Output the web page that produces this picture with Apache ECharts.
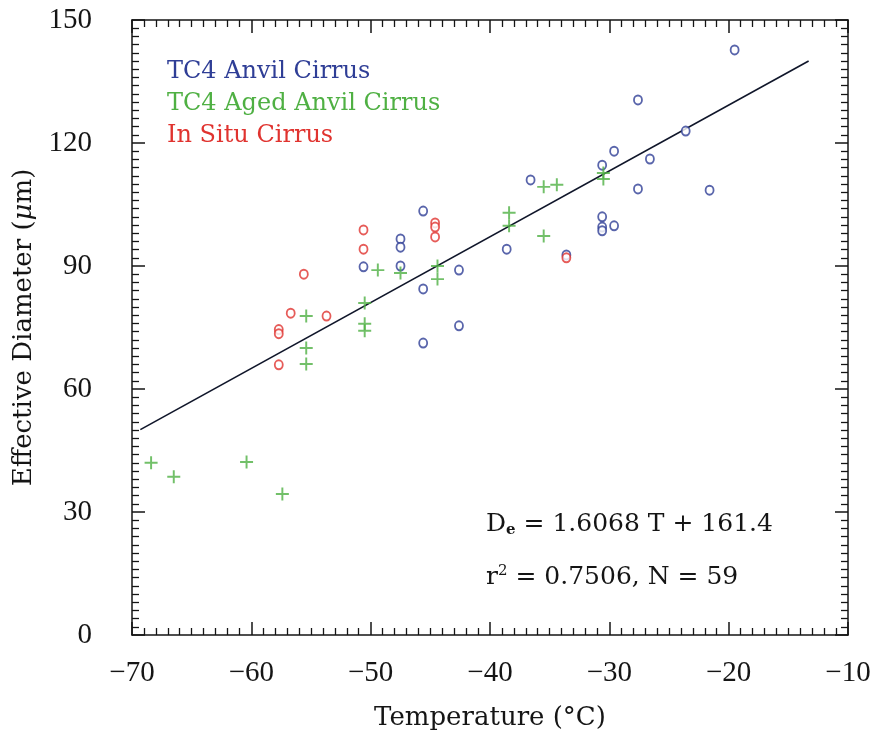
<!DOCTYPE html>
<html>
<head>
<meta charset="utf-8">
<script src="https://cdn.jsdelivr.net/npm/echarts@6/dist/echarts.min.js"></script>
<style>
  html, body { margin: 0; padding: 0; background: #fff; }
  #chart { width: 881px; height: 731px; }
</style>
</head>
<body>
<div id="chart"></div>
<script>
// values: [temperature C, effective diameter um]
var anvil = [
  [-19.5, 142.7], [-27.6, 130.5], [-23.6, 122.9], [-29.6, 118.0], [-30.6, 114.6],
  [-26.6, 116.1], [-36.6, 111.0], [-27.6, 108.8], [-21.6, 108.5], [-45.6, 103.4],
  [-30.6, 102.0], [-30.6, 99.5], [-30.6, 98.6], [-29.6, 99.8], [-47.5, 96.6],
  [-47.5, 94.6], [-38.6, 94.1], [-33.6, 92.7], [-50.6, 89.8], [-47.5, 90.0],
  [-42.6, 89.0], [-45.6, 84.4], [-42.6, 75.4], [-45.6, 71.2]
];
var agedAnvil = [
  [-55.4, 77.8], [-55.4, 70.0], [-55.4, 66.1], [-68.4, 42.0], [-66.5, 38.6],
  [-60.4, 42.2], [-57.4, 34.4], [-49.4, 89.0], [-47.5, 88.3], [-50.5, 81.0],
  [-50.5, 75.9], [-50.5, 74.2], [-44.4, 90.0], [-44.4, 86.8], [-38.4, 103.0],
  [-38.4, 99.8], [-35.5, 97.3], [-35.5, 109.3], [-34.4, 109.8], [-30.5, 112.7],
  [-30.5, 111.2]
];
var inSitu = [
  [-50.6, 98.8], [-50.6, 94.1], [-44.6, 100.5], [-44.6, 99.5], [-44.6, 97.1],
  [-53.7, 77.8], [-33.6, 92.0], [-55.6, 88.0], [-56.7, 78.5], [-57.7, 74.5],
  [-57.7, 73.5], [-57.7, 65.9]
];
// fitted line end points
var fitLine = [[-69.3, 50.1], [-13.3, 140.0]];

var xTicks = { min: -70, max: -10, interval: 10 };
var yTicks = { min: 0, max: 150, interval: 30 };

var blue = '#2f3e96';
var green = '#4fb043';
var red = '#e0332f';
var ink = '#151515';
var serif = 'DejaVu Serif';
var numFont = 'Liberation Serif';

var gridBox = { left: 132, right: 33, top: 20, bottom: 96 };
var plotW = 881 - gridBox.left - gridBox.right;
var plotH = 731 - gridBox.top - gridBox.bottom;

var plus = 'path://M4.25,0h1.5v4.25h4.25v1.5h-4.25v4.25h-1.5v-4.25h-4.25v-1.5h4.25z';

// frame axis: line + optional labels, no ticks
function frameAxis(pos, t, showLabel) {
    return {
        type: 'value',
        position: pos,
        min: t.min,
        max: t.max,
        interval: t.interval,
        splitLine: { show: false },
        axisLine: { show: true, onZero: false, lineStyle: { color: ink, width: 1.5 } },
        axisTick: { show: false },
        axisLabel: {
            show: showLabel,
            fontFamily: numFont,
            fontSize: 29,
            color: ink,
            formatter: function (v) { return String(v).replace('-', '\u2212'); }
        }
    };
}

// tick-only axis pushed across the plot so its outward ticks point inward
function tickAxis(pos, t, offset) {
    return {
        type: 'value',
        position: pos,
        offset: offset,
        min: t.min,
        max: t.max,
        interval: t.interval,
        splitLine: { show: false },
        axisLine: { show: false, onZero: false },
        axisLabel: { show: false },
        axisTick: { show: true, length: 13, lineStyle: { color: ink, width: 1.5 } },
        minorTick: { show: true, splitNumber: t === xTicks ? 10 : 15, length: 7, lineStyle: { color: ink, width: 1.3 } }
    };
}

var chart = echarts.init(document.getElementById('chart'));

var xBottom = frameAxis('bottom', xTicks, true);
xBottom.axisLabel.margin = 24;
xBottom.name = 'Temperature (\u00b0C)';
xBottom.nameLocation = 'middle';
xBottom.nameGap = 70;
xBottom.nameTextStyle = { fontFamily: serif, fontSize: 26, color: ink };

var yLeft = frameAxis('left', yTicks, true);
yLeft.axisLabel.margin = 40;
yLeft.name = 'Effective Diameter ({i|\u03bc}m)';
yLeft.nameLocation = 'middle';
yLeft.nameGap = 87;
yLeft.nameTextStyle = {
    fontFamily: serif, fontSize: 26, color: ink,
    rich: { i: { fontFamily: serif, fontStyle: 'italic', fontSize: 26, color: ink } }
};

var option = {
    backgroundColor: '#fff',
    animation: false,
    grid: {
        left: gridBox.left, right: gridBox.right, top: gridBox.top, bottom: gridBox.bottom,
        containLabel: false, outerBoundsMode: 'none'
    },
    xAxis: [
        xBottom,
        frameAxis('top', xTicks, false),
        tickAxis('top', xTicks, -plotH),
        tickAxis('bottom', xTicks, -plotH)
    ],
    yAxis: [
        yLeft,
        frameAxis('right', yTicks, false),
        tickAxis('right', yTicks, -plotW),
        tickAxis('left', yTicks, -plotW)
    ],
    legend: {
        orient: 'vertical',
        left: 162,
        top: 60,
        padding: 0,
        icon: 'none',
        itemWidth: 0,
        itemHeight: 24,
        itemGap: 8,
        selectedMode: false,
        textStyle: { fontFamily: serif, fontSize: 24, lineHeight: 24 },
        data: [
            { name: 'TC4 Anvil Cirrus', textStyle: { color: blue } },
            { name: 'TC4 Aged Anvil Cirrus', textStyle: { color: green } },
            { name: 'In Situ Cirrus', textStyle: { color: red } }
        ]
    },
    graphic: [{
        type: 'text',
        left: 486,
        top: 510,
        style: {
            text: 'D{s|e} = 1.6068 T + 161.4\n\nr{p|2} = 0.7506, N = 59',
            fontFamily: serif,
            fontSize: 25,
            lineHeight: 26,
            fill: ink,
            rich: {
                s: { fontFamily: serif, fontSize: 15, fontWeight: 'bold', verticalAlign: 'bottom', lineHeight: 28, fill: ink },
                p: { fontFamily: serif, fontSize: 15, verticalAlign: 'top', lineHeight: 24, fill: ink }
            }
        }
    }],
    series: [
        {
            name: 'fit',
            type: 'line',
            data: fitLine,
            symbol: 'none',
            lineStyle: { color: '#10162a', width: 1.6 },
            silent: true,
            z: 1
        },
        {
            name: 'TC4 Anvil Cirrus',
            type: 'scatter',
            data: anvil,
            symbol: 'circle',
            symbolSize: [8, 9],
            itemStyle: { color: '#fff', borderColor: blue, borderWidth: 1.9 },
            z: 3
        },
        {
            name: 'TC4 Aged Anvil Cirrus',
            type: 'scatter',
            data: agedAnvil,
            symbol: plus,
            symbolSize: 13,
            itemStyle: { color: green },
            z: 4
        },
        {
            name: 'In Situ Cirrus',
            type: 'scatter',
            data: inSitu,
            symbol: 'circle',
            symbolSize: [8, 9],
            itemStyle: { color: '#fff', borderColor: red, borderWidth: 1.9 },
            z: 5
        }
    ]
};

chart.setOption(option);
</script>
</body>
</html>
